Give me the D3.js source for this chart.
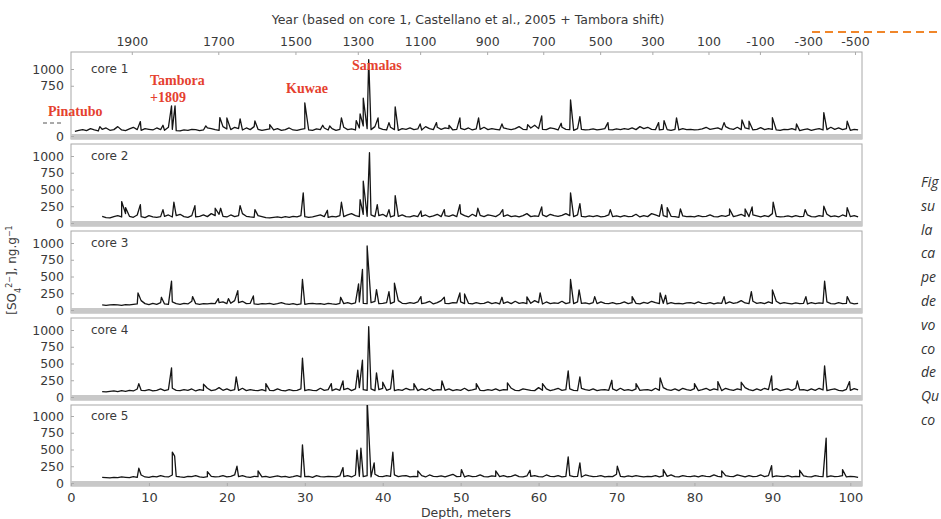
<!DOCTYPE html>
<html>
<head>
<meta charset="utf-8">
<script src="https://cdn.jsdelivr.net/npm/d3@7"></script>
<style>
  body { margin: 0; background: #fff; }
  svg { display: block; }
  text { font-family: "DejaVu Sans", sans-serif; fill: #3a3a3a; }
</style>
</head>
<body>
<svg width="941" height="519"></svg>
<script>
// depth grid step for the background values (m)
const step = 0.5;

// background sulfate level, one value every 0.5 m (ng/g)
const core1Start = 0.5;
const core1Base = [
  70,85,95,80,110,90,75,100,120,85,95,140,90,80,105,130,95,85,110,100,
  90,120,95,85,130,100,80,75,90,85,100,95,80,90,120,110,95,85,140,105,
  95,130,110,90,120,95,140,100,85,95,105,90,110,85,95,120,90,85,100,110,
  90,85,105,95,120,90,110,85,100,130,95,105,90,120,150,110,95,140,120,100,
  90,130,95,85,110,100,120,95,105,90,140,110,95,130,100,120,110,90,100,115,
  95,120,90,105,100,130,95,110,100,90,120,105,95,110,140,100,95,120,160,110,
  100,95,120,110,90,130,100,95,85,110,100,90,95,105,90,100,110,95,90,105,
  95,110,100,120,95,140,110,130,100,95,90,100,95,85,100,90,110,95,100,90,
  95,105,130,100,110,120,95,140,110,100,130,95,120,105,90,100,125,95,110,100,
  90,85,100,95,110,90,80,95,105,85,100,110,90,95,130,100,120,95,110,85,
  100,90
];
const core2Start = 4;
const core2Base = [
  100,80,75,95,110,90,140,100,85,120,95,80,110,90,85,95,100,120,90,110,
  130,95,85,110,90,100,120,95,140,110,130,100,90,120,95,110,140,100,90,85,
  110,95,80,75,85,90,80,95,85,100,90,110,95,85,90,105,120,95,85,100,
  90,110,95,120,140,110,95,130,100,120,95,110,130,95,90,110,100,120,95,90,
  110,95,100,120,90,105,130,95,110,100,120,95,140,110,90,130,100,115,95,120,
  110,95,130,100,120,95,105,90,110,140,95,105,100,120,95,130,110,100,115,140,
  110,95,120,100,90,105,95,110,90,100,120,95,105,90,110,95,100,130,90,110,
  95,140,120,100,110,90,100,95,85,105,95,100,90,110,95,100,120,95,90,110,
  100,120,95,110,130,100,95,120,105,90,110,95,140,100,90,95,105,90,110,95,
  100,120,95,90,110,100,130,95,105,90,120,100,95,110,90
];
const core3Start = 4;
const core3Base = [
  75,70,75,80,75,70,80,75,85,90,140,95,80,100,85,110,90,85,120,95,
  85,100,90,130,95,85,95,90,100,95,110,120,95,100,140,110,130,95,100,90,
  85,95,90,100,85,95,110,90,85,95,80,90,85,95,100,90,95,85,100,90,
  85,100,95,110,90,105,120,100,95,110,130,95,100,110,95,120,140,100,95,110,
  100,120,95,105,130,90,110,140,100,95,110,105,120,95,100,90,110,95,100,120,
  95,110,90,100,120,95,130,100,110,95,100,140,110,90,120,95,105,100,130,95,
  110,95,120,100,105,90,110,95,120,100,95,110,90,100,120,95,110,100,90,115,
  100,130,110,95,100,90,110,95,100,90,105,110,95,120,100,95,110,90,105,100,
  95,120,100,110,140,105,95,130,100,110,95,120,100,130,95,110,100,90,105,95,
  100,90,110,95,105,100,120,95,90,110,95,100,105,90,100
];
const core4Start = 4;
const core4Base = [
  80,75,85,90,80,95,85,100,90,120,100,95,110,90,100,120,95,110,130,100,
  95,110,100,120,90,110,100,130,95,105,140,100,120,95,110,100,130,95,110,100,
  95,110,90,100,95,120,100,90,110,95,100,120,95,110,100,95,130,100,110,95,
  120,100,110,130,95,120,140,110,100,120,95,110,130,100,120,95,110,100,130,105,
  110,95,120,100,130,95,110,105,100,120,95,110,100,130,95,105,120,100,95,110,
  100,120,95,110,105,130,100,95,120,110,100,95,140,100,120,95,110,130,100,110,
  120,100,95,130,110,100,120,95,105,110,100,120,95,130,100,110,95,120,100,105,
  110,95,130,100,140,110,100,120,95,130,110,100,125,95,110,130,100,120,105,95,
  130,110,100,120,105,140,110,95,120,100,130,110,100,125,95,110,120,100,130,105,
  110,95,120,100,130,105,95,110,120,100,90,115,100,125,105
];
const core5Start = 4;
const core5Base = [
  85,80,75,85,80,90,85,80,95,85,120,90,85,100,90,110,95,90,120,100,
  90,85,100,95,110,90,85,95,100,90,95,110,90,100,120,95,110,90,85,100,
  95,90,100,85,95,105,90,100,85,95,110,90,95,100,85,110,95,90,100,95,
  90,105,95,110,90,120,100,95,110,90,130,100,95,110,100,120,95,105,110,90,
  100,95,110,90,120,100,95,105,90,110,130,95,100,90,110,95,100,120,95,90,
  105,100,95,110,90,100,120,95,90,105,100,110,95,90,120,100,95,110,90,100,
  110,95,100,90,120,105,95,100,110,90,100,95,130,100,90,105,95,110,100,90,
  100,95,110,90,105,100,120,95,90,110,100,95,105,90,110,100,95,120,100,90,
  110,100,95,120,105,90,110,95,100,120,95,110,90,105,100,95,110,90,100,95,
  105,95,90,110,100,95,90,105,95,100,110,90,100,95,85
];

// volcanic spikes: [depth m, value ng/g]
const core1Peaks = [
  [3.7,140],[8.9,215],[11.8,160],[12.9,450],[13.35,450],[17.3,150],[19.1,275],[20.0,270],
  [21.7,255],[23.6,225],[25.5,170],[30.0,495],[32.3,160],[33.2,150],[34.7,270],[36.6,230],
  [37.1,330],[37.5,565],[38.2,1140],[39.4,270],[40.8,200],[41.6,435],[44.8,180],[46.9,200],
  [48.5,160],[49.9,270],[52.3,270],[55.3,180],[58.6,170],[60.4,300],[62.9,190],[64.1,540],
  [65.3,290],[68.9,200],[75.4,200],[76.1,230],[77.7,270],[83.8,200],[86.1,240],[87.0,220],
  [90.0,275],[93.1,180],[96.6,350],[99.6,220]
];
const core2Peaks = [
  [6.5,320],[7.0,230],[8.9,275],[11.8,200],[13.2,310],[15.9,260],[18.5,220],[19.2,220],
  [21.7,260],[23.6,200],[29.8,450],[32.9,190],[34.7,310],[37.1,350],[37.5,625],[38.3,1050],
  [39.3,275],[40.8,200],[41.6,410],[44.9,180],[47.9,200],[49.9,275],[52.2,220],[55.4,200],
  [60.4,240],[64.1,450],[65.3,290],[69.2,200],[75.8,275],[76.5,230],[78.2,210],[84.5,210],
  [86.5,210],[87.4,240],[90.1,310],[94.2,200],[96.6,250],[99.6,230]
];
const core3Peaks = [
  [8.6,255],[11.6,190],[12.9,430],[15.6,200],[18.9,170],[20.2,170],[21.4,290],[23.4,210],
  [29.7,455],[34.6,190],[36.9,390],[37.4,605],[38.0,955],[39.2,305],[40.8,275],[41.5,400],
  [44.9,200],[47.9,190],[49.9,255],[50.5,240],[55.3,190],[58.5,195],[60.2,255],[64.1,455],
  [65.2,300],[67.2,200],[72.0,200],[75.6,255],[76.3,220],[83.8,200],[87.3,275],[90.0,300],
  [94.3,200],[96.7,430],[99.6,200]
];
const core4Peaks = [
  [8.7,200],[12.9,435],[17.0,190],[21.2,300],[25.0,200],[29.7,580],[33.4,200],[34.9,240],
  [36.8,400],[37.4,550],[38.2,1050],[39.2,360],[40.0,220],[41.3,400],[44.0,200],[47.6,240],
  [52.0,200],[56.0,210],[60.5,200],[63.8,390],[65.3,300],[69.4,250],[72.5,200],[75.6,285],
  [80.0,200],[83.0,230],[86.0,220],[89.9,315],[93.2,240],[96.7,465],[99.9,230]
];
const core5Peaks = [
  [8.7,220],[13.0,460],[13.3,400],[17.5,170],[21.3,250],[24.0,180],[29.7,570],[34.9,230],
  [36.7,490],[37.2,520],[38.0,1250],[38.9,300],[41.3,460],[44.5,180],[50.1,200],[54.5,180],
  [58.9,190],[63.8,390],[65.3,300],[70.1,250],[76.0,200],[83.5,180],[89.9,260],[93.5,190],
  [96.9,670],[99.0,200]
];

const coreNames = ["core 1", "core 2", "core 3", "core 4", "core 5"];
const yTicks = [0, 250, 500, 750, 1000];
const core1Ticks = [0, 750, 1000]; // 250 and 500 sit under the Pinatubo label
const depthTicks = [0, 10, 20, 30, 40, 50, 60, 70, 80, 90, 100];
// top axis: year labels and the depth they sit at
const yearLabels = [1900, 1700, 1500, 1300, 1100, 900, 700, 500, 300, 100, -100, -300, -500];
const yearDepths = [7.8, 18.9, 28.8, 36.8, 44.8, 53.4, 60.6, 67.9, 74.6, 81.8, 88.4, 94.6, 100.6];
// event labels on core 1
const events = [
  { name: ["Pinatubo"], x: 48, y: 116 },
  { name: ["Tambora", "+1809"], x: 150, y: 85 },
  { name: ["Kuwae"], x: 286, y: 93 },
  { name: ["Samalas"], x: 352, y: 70 }
];
const sideText = ["Fig", "su", "la", "ca", "pe", "de", "vo", "co", "de", "Qu", "co"];

const cores = [
  { start: core1Start, base: core1Base, peaks: core1Peaks, ticks: core1Ticks },
  { start: core2Start, base: core2Base, peaks: core2Peaks, ticks: yTicks },
  { start: core3Start, base: core3Base, peaks: core3Peaks, ticks: yTicks },
  { start: core4Start, base: core4Base, peaks: core4Peaks, ticks: yTicks },
  { start: core5Start, base: core5Base, peaks: core5Peaks, ticks: yTicks }
];

function buildSeries(c) {
  var pts = c.base.map(function(v, i) { return { d: c.start + i * step, v: v }; });
  c.peaks.forEach(function(p) { pts.push({ d: p[0], v: p[1] }); });
  pts.sort(function(a, b) { return a.d - b.d; });
  return pts;
}

const svg = d3.select("svg");
const x = d3.scaleLinear().domain([0, 101.5]).range([71, 862]);

const zeros = [136, 223, 310, 397, 483];
const tops = [52, 144, 231, 318, 405];

cores.forEach(function(c, k) {
  var z = zeros[k], top = tops[k], bottom = z + 3;
  var y = d3.scaleLinear().domain([0, 1000]).range([z, z - 67]);
  var g = svg.append("g");

  g.append("clipPath").attr("id", "clip" + k)
    .append("rect").attr("x", 71).attr("y", top).attr("width", 791).attr("height", bottom - top);

  // panel frame
  g.append("rect")
    .attr("x", 71).attr("y", top).attr("width", 791).attr("height", bottom - top)
    .attr("fill", "#fff").attr("stroke", "#a8a8a8").attr("stroke-width", 1);

  // grey zero band
  g.append("rect")
    .attr("x", 71).attr("y", z - 2).attr("width", 791).attr("height", 5)
    .attr("fill", "#c8c8c8");

  var line = d3.line()
    .x(function(d) { return x(d.d); })
    .y(function(d) { return y(d.v); });

  g.append("path")
    .datum(buildSeries(c))
    .attr("clip-path", "url(#clip" + k + ")")
    .attr("fill", "none")
    .attr("stroke", "#151515")
    .attr("stroke-width", 1.3)
    .attr("stroke-linejoin", "round")
    .attr("d", line);

  // y axis labels
  var ax = g.append("g")
    .attr("transform", "translate(71,0)")
    .call(d3.axisLeft(y).tickValues(c.ticks).tickFormat(d3.format("d"))
      .tickSizeInner(-3).tickSizeOuter(0).tickPadding(7));
  ax.select(".domain").remove();
  ax.selectAll("line").attr("stroke", "#aaa");
  ax.selectAll("text").style("font-size", "12.5px").attr("fill", "#3a3a3a");

  g.append("text")
    .attr("x", 91).attr("y", y(1000) + 4)
    .style("font-size", "12px")
    .text(coreNames[k]);
});

// leftover dashes of core 1's hidden tick labels
svg.append("line")
  .attr("x1", 43).attr("x2", 62).attr("y1", 123).attr("y2", 123)
  .attr("stroke", "#555").attr("stroke-width", 1).attr("stroke-dasharray", "4,3");

// bottom axis
var bx = svg.append("g")
  .attr("transform", "translate(0," + (zeros[4] + 3) + ")")
  .call(d3.axisBottom(x).tickValues(depthTicks).tickSizeInner(-3).tickSizeOuter(0).tickPadding(7));
bx.select(".domain").remove();
bx.selectAll("line").attr("stroke", "#aaa");
bx.selectAll("text").style("font-size", "13px").attr("fill", "#3a3a3a");

svg.append("text")
  .attr("x", 466).attr("y", 517)
  .attr("text-anchor", "middle")
  .style("font-size", "12.5px")
  .text("Depth, meters");

// top year axis
var tx = svg.append("g")
  .attr("transform", "translate(0," + tops[0] + ")")
  .call(d3.axisTop(x).tickValues(yearDepths)
    .tickFormat(function(d, i) { return yearLabels[i]; })
    .tickSizeInner(-3).tickSizeOuter(0).tickPadding(6));
tx.select(".domain").remove();
tx.selectAll("line").attr("stroke", "#aaa");
tx.selectAll("text").style("font-size", "12.5px").attr("fill", "#3a3a3a");

svg.append("text")
  .attr("x", 468).attr("y", 24)
  .attr("text-anchor", "middle")
  .style("font-size", "12.5px")
  .text("Year (based on core 1, Castellano et al., 2005 + Tambora shift)");

// y axis title
var yl = svg.append("text")
  .attr("transform", "translate(16,270) rotate(-90)")
  .attr("text-anchor", "middle")
  .style("font-size", "12px");
yl.append("tspan").text("[SO");
yl.append("tspan").attr("baseline-shift", "sub").style("font-size", "8px").text("4");
yl.append("tspan").attr("baseline-shift", "super").style("font-size", "8px").text("2\u2212");
yl.append("tspan").text("], ng.g");
yl.append("tspan").attr("baseline-shift", "super").style("font-size", "8px").text("\u22121");

// event labels
events.forEach(function(e) {
  var t = svg.append("text")
    .attr("x", e.x).attr("y", e.y)
    .style("font-family", "'Liberation Serif', serif")
    .style("font-weight", "bold")
    .style("font-size", "14px")
    .style("fill", "#e5412f");
  e.name.forEach(function(s, i) {
    t.append("tspan").attr("x", e.x).attr("dy", i === 0 ? 0 : 17).text(s);
  });
});

// dashed orange rule, top right
svg.append("line")
  .attr("x1", 812).attr("x2", 941).attr("y1", 32).attr("y2", 32)
  .attr("stroke", "#f0862a").attr("stroke-width", 2).attr("stroke-dasharray", "8,5");

// cut-off caption on the right edge
svg.append("g").selectAll("text")
  .data(sideText)
  .enter().append("text")
  .attr("x", 921)
  .attr("y", function(d, i) { return 187 + i * 23.8; })
  .style("font-family", "'Open Sans', sans-serif")
  .style("font-style", "italic")
  .style("font-size", "14px")
  .style("fill", "#333")
  .text(function(d) { return d; });
</script>
</body>
</html>
